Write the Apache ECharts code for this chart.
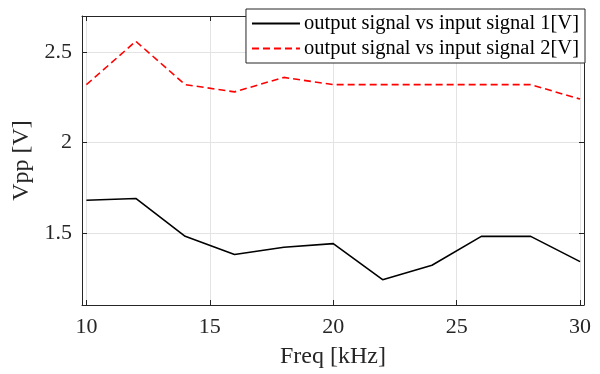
<!DOCTYPE html>
<html>
<head>
<meta charset="utf-8">
<script src="https://cdn.jsdelivr.net/npm/echarts@6/dist/echarts.min.js"></script>
<style>
html,body{margin:0;padding:0;background:#fff;}
#chart{width:600px;height:374px;}
</style>
</head>
<body>
<div id="chart"></div>
<script>
const freq = [10, 12, 14, 16, 18, 20, 22, 24, 26, 28, 30];
const signal1 = [1.68, 1.69, 1.48, 1.38, 1.42, 1.44, 1.24, 1.32, 1.48, 1.48, 1.34];
const signal2 = [2.32, 2.56, 2.32, 2.28, 2.36, 2.32, 2.32, 2.32, 2.32, 2.32, 2.24];
const xTicks = [10, 15, 20, 25, 30];
const yTicks = [1.5, 2, 2.5];
const seriesNames = ['output signal vs input signal 1[V]', 'output signal vs input signal 2[V]'];

const FONT = '"Liberation Serif", "Times New Roman", serif';
const AX = '#262626';
const GRIDC = '#e3e3e3';

function pairs(xs, ys) { return xs.map((x, i) => [x, ys[i]]); }

const chart = echarts.init(document.getElementById('chart'), null, {renderer: 'canvas'});
const baseX = {
  type: 'value', min: 9.82, max: 30.16,
  axisLine: {show: true, lineStyle: {color: AX, width: 1}},
  axisTick: {show: true, inside: true, length: 5, customValues: xTicks, lineStyle: {color: AX}},
};
const baseY = {
  type: 'value', min: 1.1, max: 2.7,
  axisLine: {show: true, lineStyle: {color: AX, width: 1}},
  axisTick: {show: true, inside: true, length: 5, customValues: yTicks, lineStyle: {color: AX}},
};
chart.setOption({
  animation: false,
  backgroundColor: '#fff',
  grid: {left: 82, right: 16, top: 16, bottom: 66, containLabel: false},
  xAxis: [
    Object.assign({}, baseX, {
      position: 'bottom',
      name: 'Freq [kHz]', nameLocation: 'middle', nameGap: 40,
      nameTextStyle: {fontFamily: FONT, fontSize: 24, color: AX},
      axisLabel: {show: true, customValues: xTicks, margin: 11, fontFamily: FONT, fontSize: 22, color: AX},
      splitLine: {show: true, lineStyle: {color: GRIDC, width: 1}}
    }),
    Object.assign({}, baseX, {
      position: 'top',
      axisLabel: {show: false},
      splitLine: {show: false}
    })
  ],
  yAxis: [
    Object.assign({}, baseY, {
      position: 'left',
      name: 'Vpp [V]', nameLocation: 'middle', nameGap: 44,
      nameTextStyle: {fontFamily: FONT, fontSize: 24, color: AX},
      axisLabel: {show: true, customValues: yTicks, margin: 10, fontFamily: FONT, fontSize: 22, color: AX,
        formatter: v => String(v)},
      splitLine: {show: true, lineStyle: {color: GRIDC, width: 1}}
    }),
    Object.assign({}, baseY, {
      position: 'right',
      axisLabel: {show: false},
      splitLine: {show: false}
    })
  ],
  legend: {
    show: true,
    orient: 'vertical',
    right: 15, top: 9,
    padding: [2, 6, 2, 5],
    itemGap: 0,
    itemWidth: 48, itemHeight: 14,
    backgroundColor: '#fff',
    borderColor: AX, borderWidth: 1,
    itemStyle: {opacity: 0},
    textStyle: {fontFamily: FONT, fontSize: 20.5, color: '#000', lineHeight: 25, padding: [0, 0, 0, -1]},
    data: seriesNames
  },
  series: [
    {
      name: seriesNames[0], type: 'line', data: pairs(freq, signal1),
      symbol: 'none', showSymbol: false,
      lineStyle: {color: '#000', width: 1.6, type: 'solid'},
      itemStyle: {color: '#000'}
    },
    {
      name: seriesNames[1], type: 'line', data: pairs(freq, signal2),
      symbol: 'none', showSymbol: false,
      lineStyle: {color: '#ff0000', width: 1.6, type: [7, 4]},
      itemStyle: {color: '#ff0000'}
    }
  ]
});
</script>
</body>
</html>
